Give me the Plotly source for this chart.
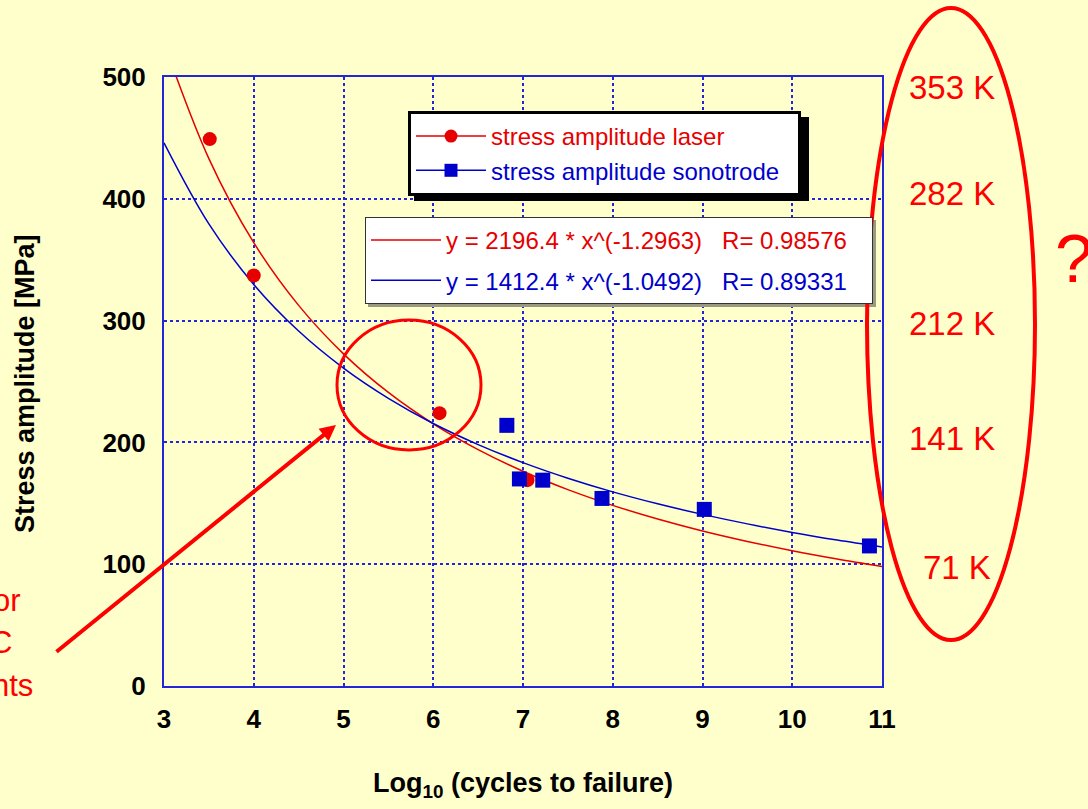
import plotly.graph_objects as go

# ---------------- data ----------------
laser_x = [3.51, 4.0, 6.07, 7.05]
laser_y = [449, 337, 224, 169]

sono_x = [6.82, 6.96, 7.22, 7.88, 9.02, 10.86]
sono_y = [214, 170, 169, 154, 145, 115]

fit_x = [3.0, 3.5, 4.0, 4.5, 5.0, 5.5, 6.0, 6.5, 7.0, 7.5, 8.0, 8.5, 9.0, 9.5, 10.0, 10.5, 11.0]
fit_laser_y = [528, 433, 364, 312.5, 272.7, 241.0, 215.3, 194.1, 176.3, 161.2, 148.3, 137.1, 127.3, 118.7, 111.0, 104.2, 98.1]
fit_sono_y = [446, 379.4, 329.7, 291.4, 261.0, 236.2, 215.5, 198.2, 183.4, 170.6, 159.4, 149.6, 140.9, 133.1, 126.1, 119.8, 114.1]

x_ticks = [3, 4, 5, 6, 7, 8, 9, 10, 11]
y_ticks = [0, 100, 200, 300, 400, 500]

temp_labels = ["353 K", "282 K", "212 K", "141 K", "71 K"]

laser_name = "stress amplitude laser"
sono_name = "stress amplitude sonotrode"
fit_laser_name = "y = 2196.4 * x^(-1.2963)\u00a0\u00a0\u00a0R= 0.98576"
fit_sono_name = "y = 1412.4 * x^(-1.0492)\u00a0\u00a0\u00a0R= 0.89331"

# ---------------- style ----------------
W, H = 1088, 809
L, R, T, B = 164, 882, 77, 686
BG = "#FFFFCC"
RED = "#E60000"
ARED = "#FF0000"
BLUE = "#0000CC"
GRID = "#2424D8"
FONT = "Liberation Sans, Arial, sans-serif"
PAD1 = "\u00a0" * 2
PAD2 = "\u00a0" * 3


def px(p):
    return (p - L) / (R - L)


def py(p):
    return (B - p) / (B - T)


fig = go.Figure()

fig.add_trace(go.Scatter(x=fit_x, y=fit_laser_y, mode="lines", line=dict(color=RED, width=1.5, shape="spline"),
                         name=f"<span style='color:{RED}'>{fit_laser_name}</span>{PAD2}",
                         legend="legend2", legendgroup="a"))
fig.add_trace(go.Scatter(x=fit_x, y=fit_sono_y, mode="lines", line=dict(color=BLUE, width=1.5, shape="spline"),
                         name=f"<span style='color:{BLUE}'>{fit_sono_name}</span>{PAD2}",
                         legend="legend2", legendgroup="b"))
fig.add_trace(go.Scatter(x=laser_x, y=laser_y, mode="markers",
                         marker=dict(color=RED, size=14, symbol="circle"), showlegend=False))
fig.add_trace(go.Scatter(x=sono_x, y=sono_y, mode="markers",
                         marker=dict(color=BLUE, size=15, symbol="square"), showlegend=False))
fig.add_trace(go.Scatter(x=[None], y=[None], mode="lines+markers",
                         line=dict(color=RED, width=1.5), marker=dict(color=RED, size=13, symbol="circle"),
                         name=f"<span style='color:{RED}'>{laser_name}</span>", legend="legend"))
fig.add_trace(go.Scatter(x=[None], y=[None], mode="lines+markers",
                         line=dict(color=BLUE, width=1.5), marker=dict(color=BLUE, size=13, symbol="square"),
                         name=f"<span style='color:{BLUE}'>{sono_name}</span>{PAD1}", legend="legend"))

axis_common = dict(showline=True, linecolor=GRID, linewidth=2, mirror=True,
                   showgrid=True, gridcolor=GRID, gridwidth=1.5, griddash="3px,3px",
                   zeroline=False, ticks="",
                   tickfont=dict(family=FONT, size=26, color="black", weight="bold"))

fig.update_layout(
    width=W, height=H,
    margin=dict(l=L, r=W - R, t=T, b=H - B),
    paper_bgcolor=BG, plot_bgcolor=BG,
    xaxis=dict(range=[3, 11], tickvals=x_ticks, ticklabelstandoff=9, **axis_common),
    yaxis=dict(range=[0, 500], tickvals=y_ticks, ticklabelstandoff=11, **axis_common),
    legend=dict(x=px(408), y=py(111), xanchor="left", yanchor="top",
                bgcolor="white", bordercolor="black", borderwidth=3,
                font=dict(family=FONT, size=24), itemwidth=70, tracegroupgap=0),
    legend2=dict(x=px(365), y=py(217), xanchor="left", yanchor="top",
                 bgcolor="white", bordercolor="#333333", borderwidth=1,
                 font=dict(family=FONT, size=24), itemwidth=70, tracegroupgap=6),
    showlegend=True,
)

shapes = [
    # legend shadows
    dict(type="rect", xref="paper", yref="paper", x0=px(414), x1=px(809), y0=py(201), y1=py(117),
         fillcolor="black", line=dict(width=0), layer="above"),
    dict(type="rect", xref="paper", yref="paper", x0=px(368), x1=px(876), y0=py(307), y1=py(220),
         fillcolor="#9a9a80", line=dict(width=0), layer="above"),
    # ellipses
    dict(type="circle", xref="paper", yref="paper", x0=px(867), x1=px(1035), y0=py(640), y1=py(8),
         line=dict(color=ARED, width=4), layer="above"),
    dict(type="circle", xref="paper", yref="paper", x0=px(337), x1=px(481), y0=py(450), y1=py(320),
         line=dict(color=ARED, width=3), layer="above"),
]
fig.update_layout(shapes=shapes)

ann = []
# temperature labels
for lab, (xp, yp) in zip(temp_labels, [(952, 88), (952, 193), (952, 323), (952, 438), (957, 567)]):
    ann.append(dict(text=lab, x=px(xp), y=py(yp), xref="paper", yref="paper", showarrow=False,
                    xanchor="center", yanchor="middle", font=dict(family=FONT, size=33, color=ARED)))
ann.append(dict(text="?", x=px(1053), y=py(258), xref="paper", yref="paper", showarrow=False,
                xanchor="left", yanchor="middle", font=dict(family=FONT, size=68, color=ARED)))
for t, (xp, yp) in zip(["or", "C", "nts"], [(23, 600), (14, 642), (35, 685)]):
    ann.append(dict(text=t, x=px(xp), y=py(yp), xref="paper", yref="paper", showarrow=False,
                    xanchor="right", yanchor="middle", font=dict(family=FONT, size=31, color=ARED)))
# arrow
ann.append(dict(text="", x=px(336), y=py(425), xref="paper", yref="paper", showarrow=True,
                ax=55 - 336, ay=653 - 425, arrowhead=2, arrowsize=0.8, arrowwidth=4, arrowcolor=ARED))
# axis titles
ann.append(dict(text="<b>Stress amplitude [MPa]</b>", x=px(25), y=py(384), xref="paper", yref="paper",
                showarrow=False, textangle=-90, xanchor="center", yanchor="middle",
                font=dict(family=FONT, size=27, color="black")))
ann.append(dict(text="<b>Log<sub>10</sub> (cycles to failure)</b>", x=px(523), y=py(785), xref="paper", yref="paper",
                showarrow=False, xanchor="center", yanchor="middle",
                font=dict(family=FONT, size=27, color="black")))
fig.update_layout(annotations=ann)

fig.write_html("out.html")
